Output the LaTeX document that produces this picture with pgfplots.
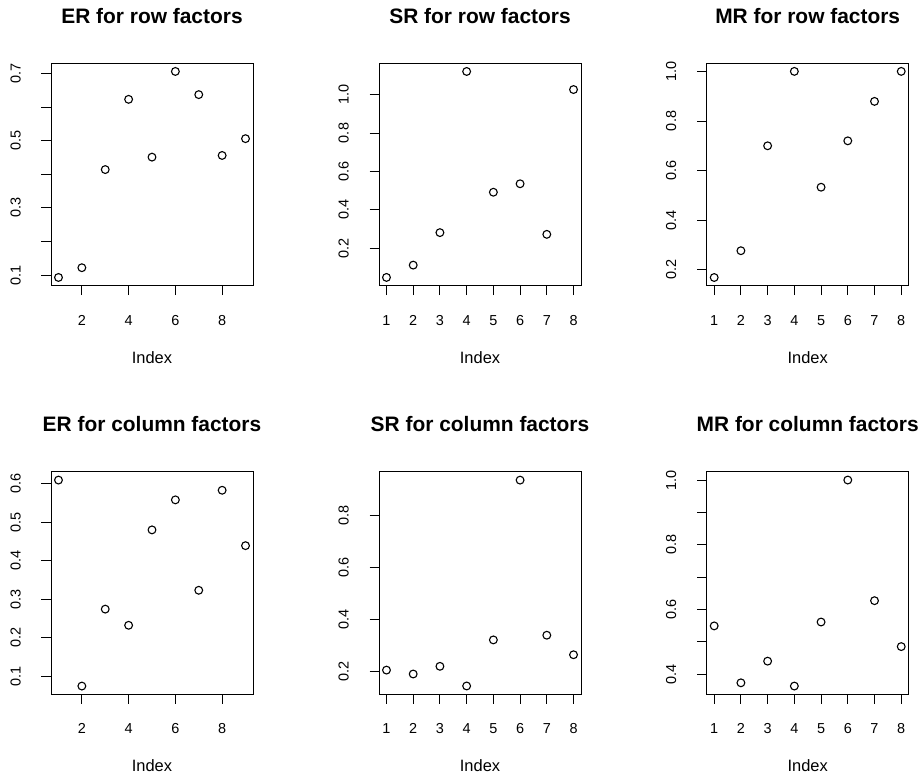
\documentclass[border=0pt]{standalone}
\usepackage{fontspec}
\setmainfont{Liberation Sans}
\usepackage{pgfplots}
\pgfplotsset{compat=1.18}
\pgfplotsset{
  rplot/.style={
    scale only axis, width=202bp, height=222.5bp,
    axis line style={line width=0.9bp},
    tick style={line width=0.9bp, black},
    major tick length=9.5bp,
    tick pos=left,
    xtick align=outside, ytick align=outside,
    minor tick num=0,
    ticklabel style={font=\fontsize{14.5}{16}\selectfont},
    xticklabel style={anchor=base},
    xticklabel shift=30bp,
    yticklabel style={rotate=90, anchor=base},
    yticklabel shift=21bp,
    title style={font=\bfseries\fontsize{21}{24}\selectfont, at={(axis description cs:0.5,1)}, anchor=base, yshift=34bp},
    xlabel={Index},
    xlabel style={font=\fontsize{16.5}{19}\selectfont, at={(axis description cs:0.5,0)}, anchor=base, yshift=-77.5bp},
    clip=false,
  },
  rpts/.style={only marks, mark=o, black, mark size=3.9bp, mark options={line width=1.1bp}},
}
\begin{document}
\begin{tikzpicture}
\path[use as bounding box] (0,0) rectangle (923bp,777bp);
% ER row
\begin{axis}[rplot, at={(51bp,491.3bp)}, anchor=south west,
  title={ER for row factors},
  xmin=0.68, xmax=9.32, ymin=0.0685, ymax=0.7305,
  xtick={2,4,6,8}, xticklabels={2,4,6,8},
  ytick={0.1,0.2,0.3,0.4,0.5,0.6,0.7}, yticklabels={0.1,,0.3,,0.5,,0.7}]
\addplot[rpts] coordinates {(1,0.093) (2,0.122) (3,0.414) (4,0.623) (5,0.451) (6,0.706) (7,0.637) (8,0.456) (9,0.506)};
\end{axis}
% SR row
\begin{axis}[rplot, at={(379bp,491.3bp)}, anchor=south west,
  title={SR for row factors},
  xmin=0.72, xmax=8.28, ymin=0.006, ymax=1.163,
  xtick={1,...,8}, xticklabels={1,2,3,4,5,6,7,8},
  ytick={0.2,0.4,0.6,0.8,1.0}, yticklabels={0.2,0.4,0.6,0.8,1.0}]
\addplot[rpts] coordinates {(1,0.049) (2,0.113) (3,0.282) (4,1.120) (5,0.492) (6,0.536) (7,0.273) (8,1.026)};
\end{axis}
% MR row
\begin{axis}[rplot, at={(706.7bp,491.3bp)}, anchor=south west,
  title={MR for row factors},
  xmin=0.72, xmax=8.28, ymin=0.136, ymax=1.033,
  xtick={1,...,8}, xticklabels={1,2,3,4,5,6,7,8},
  ytick={0.2,0.4,0.6,0.8,1.0}, yticklabels={0.2,0.4,0.6,0.8,1.0}]
\addplot[rpts] coordinates {(1,0.169) (2,0.277) (3,0.700) (4,1.0) (5,0.533) (6,0.720) (7,0.879) (8,1.0)};
\end{axis}
% ER column
\begin{axis}[rplot, at={(51bp,82.7bp)}, anchor=south west,
  title={ER for column factors},
  xmin=0.68, xmax=9.32, ymin=0.0526, ymax=0.631,
  xtick={2,4,6,8}, xticklabels={2,4,6,8},
  ytick={0.1,0.2,0.3,0.4,0.5,0.6}, yticklabels={0.1,0.2,0.3,0.4,0.5,0.6}]
\addplot[rpts] coordinates {(1,0.6095) (2,0.074) (3,0.274) (4,0.232) (5,0.480) (6,0.558) (7,0.323) (8,0.583) (9,0.439)};
\end{axis}
% SR column
\begin{axis}[rplot, at={(379bp,82.7bp)}, anchor=south west,
  title={SR for column factors},
  xmin=0.72, xmax=8.28, ymin=0.113, ymax=0.968,
  xtick={1,...,8}, xticklabels={1,2,3,4,5,6,7,8},
  ytick={0.2,0.4,0.6,0.8}, yticklabels={0.2,0.4,0.6,0.8}]
\addplot[rpts] coordinates {(1,0.206) (2,0.191) (3,0.2205) (4,0.145) (5,0.322) (6,0.936) (7,0.340) (8,0.265)};
\end{axis}
% MR column
\begin{axis}[rplot, at={(706.7bp,82.7bp)}, anchor=south west,
  title={MR for column factors},
  xmin=0.72, xmax=8.28, ymin=0.3375, ymax=1.0255,
  xtick={1,...,8}, xticklabels={1,2,3,4,5,6,7,8},
  ytick={0.4,0.5,0.6,0.7,0.8,0.9,1.0}, yticklabels={0.4,,0.6,,0.8,,1.0}]
\addplot[rpts] coordinates {(1,0.549) (2,0.373) (3,0.440) (4,0.363) (5,0.561) (6,1.0) (7,0.627) (8,0.485)};
\end{axis}
\end{tikzpicture}
\end{document}
